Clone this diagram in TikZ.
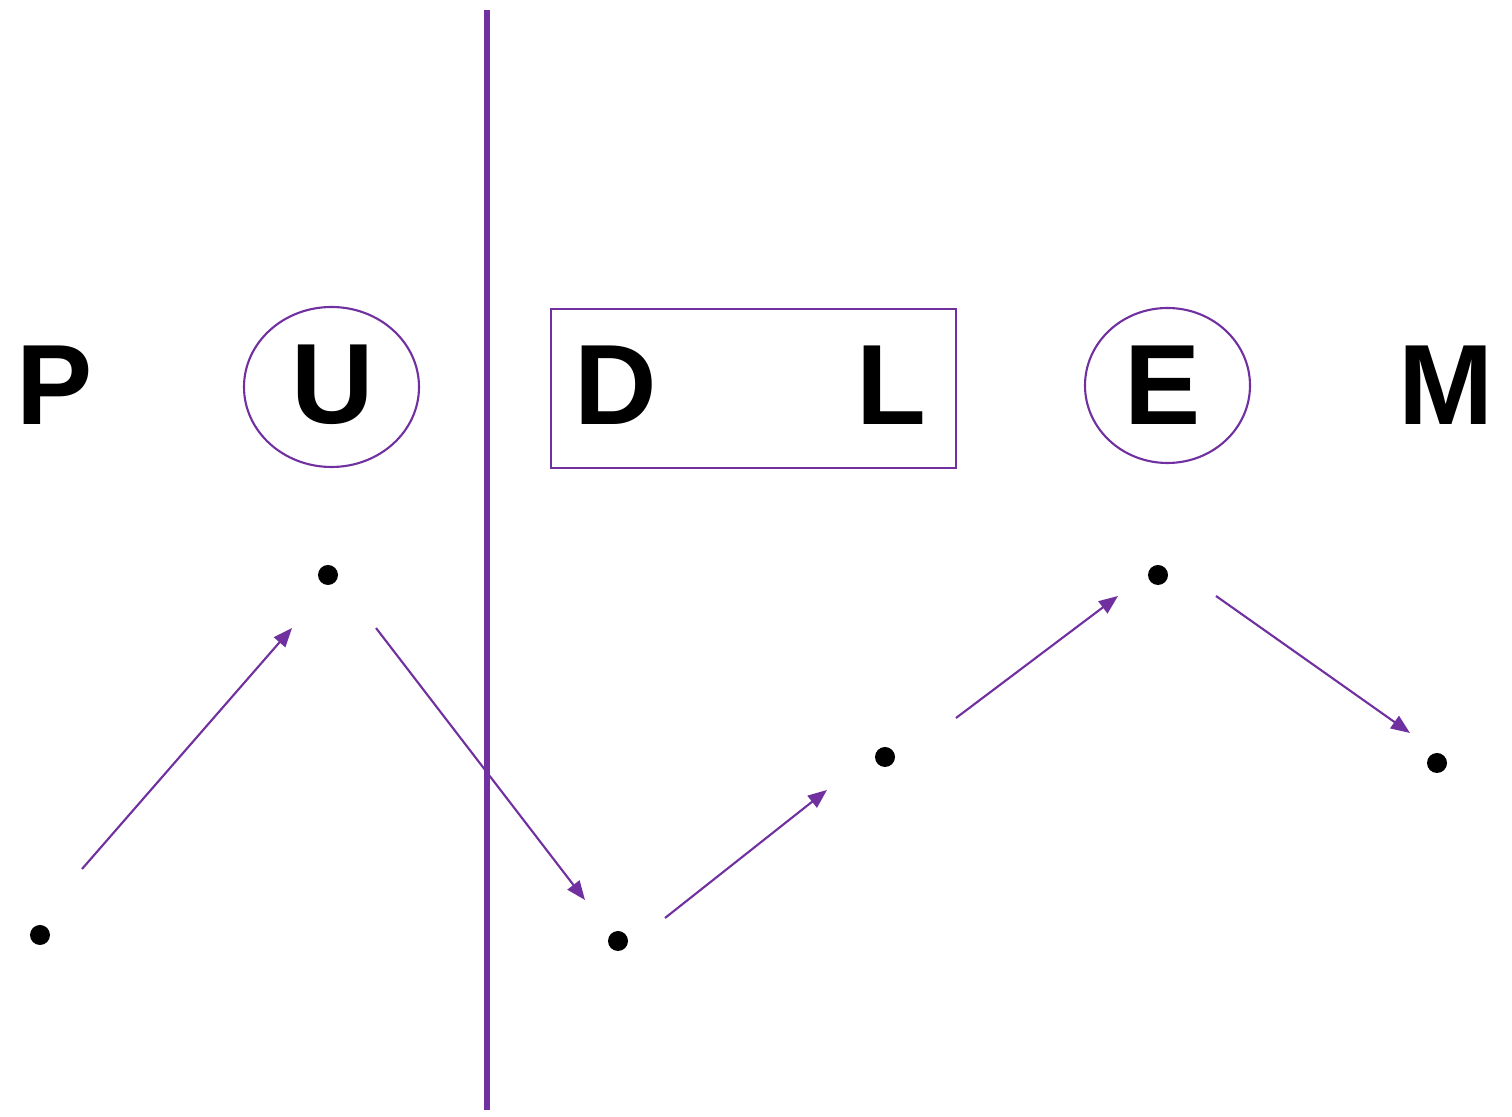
\documentclass[tikz,border=0pt]{standalone}
\usepackage{fontspec}
\setmainfont{Liberation Sans}
\usetikzlibrary{shapes.geometric,arrows.meta}
\definecolor{lila}{RGB}{112,48,160}
\begin{document}
\begin{tikzpicture}[letter/.style={inner sep=0pt,font=\fontsize{32.5}{38}\selectfont\bfseries},
        pt/.style={circle,fill=black,inner sep=0pt,minimum size=2mm},
        ring/.style={ellipse,draw=lila,line width=0.6pt,inner sep=0pt},
        hop/.style={draw=lila,line width=0.6pt,-{Triangle[length=1.9mm,width=1.5mm]}}]
        \useasboundingbox (0,0) rectangle (15.12,11.17);

        \node[letter] (lp) at (0.55,7.32) {P};
        \node[letter] (lu) at (3.33,7.32) {U};
        \node[letter] (ld) at (6.16,7.32) {D};
        \node[letter] (ll) at (8.91,7.32) {L};
        \node[letter] (le) at (11.63,7.32) {E};
        \node[letter] (lm) at (14.46,7.32) {M};

        \node[ring,minimum width=1.75cm,minimum height=1.6cm] (ru) at (3.315,7.30) {};
        \node[ring,minimum width=1.65cm,minimum height=1.55cm] (re) at (11.675,7.315) {};
        \node[draw=lila,line width=0.6pt,minimum width=4.05cm,minimum height=1.59cm,inner sep=0pt] (box) at (7.535,7.285) {};

        \coordinate (top) at (4.87,11.07);
        \coordinate (bot) at (4.87,0.07);
        \draw[lila,line width=1.5pt] (top) -- (bot);

        \node[pt] (p0) at (0.40,1.82) {};
        \node[pt] (p1) at (3.28,5.42) {};
        \node[pt] (p2) at (6.18,1.76) {};
        \node[pt] (p3) at (8.85,3.60) {};
        \node[pt] (p4) at (11.58,5.42) {};
        \node[pt] (p5) at (14.37,3.54) {};

        \coordinate (s1) at (0.82,2.48);
        \coordinate (e1) at (2.92,4.89);
        \coordinate (s2) at (3.76,4.89);
        \coordinate (e2) at (5.85,2.17);
        \coordinate (s3) at (6.65,1.99);
        \coordinate (e3) at (8.27,3.27);
        \coordinate (s4) at (9.56,3.99);
        \coordinate (e4) at (11.18,5.21);
        \coordinate (s5) at (12.16,5.21);
        \coordinate (e5) at (14.10,3.84);

        \draw[hop] (s1) -- (e1);
        \draw[hop] (s2) -- (e2);
        \draw[hop] (s3) -- (e3);
        \draw[hop] (s4) -- (e4);
        \draw[hop] (s5) -- (e5);
    \end{tikzpicture}
\end{document}
